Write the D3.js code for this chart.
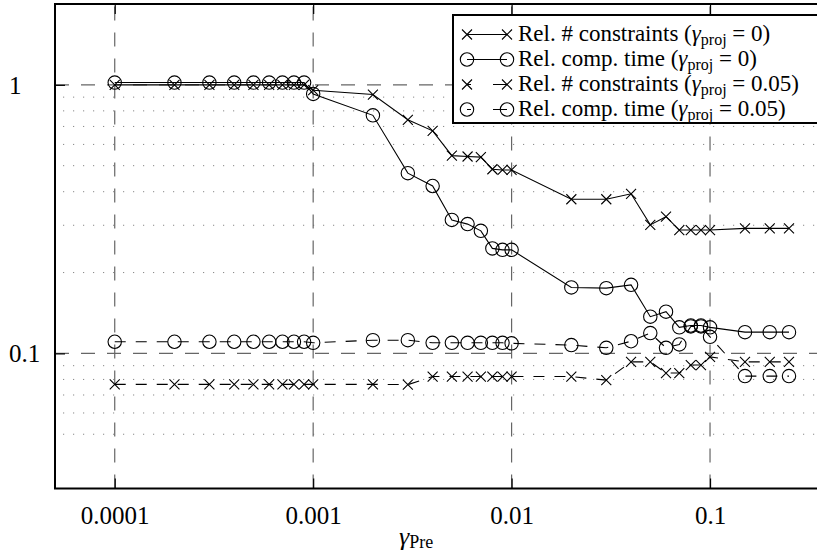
<!DOCTYPE html>
<html>
<head>
<meta charset="utf-8">
<script src="https://cdn.jsdelivr.net/npm/d3@7"></script>
<style>
  html, body { margin: 0; padding: 0; background: #fff; }
  svg { display: block; }
  text { font-family: "Liberation Serif", "DejaVu Serif", serif; fill: #000; }
</style>
</head>
<body>
<svg id="chart" width="817" height="554"></svg>
<script>
// Preconditioning threshold values on the x axis
const gammaPre = [
  0.0001, 0.0002, 0.0003, 0.0004, 0.0005, 0.0006, 0.0007, 0.0008, 0.0009,
  0.001, 0.002, 0.003, 0.004, 0.005, 0.006, 0.007, 0.008, 0.009,
  0.01, 0.02, 0.03, 0.04, 0.05, 0.06, 0.07, 0.08, 0.09,
  0.1, 0.15, 0.2, 0.25
];

// Relative number of constraints, gamma_proj = 0
const consNoProj = [
  1.0, 1.0, 1.0, 1.0, 1.0, 1.0, 1.0, 1.0, 1.0,
  0.955, 0.92, 0.741, 0.674, 0.545, 0.541, 0.538, 0.485, 0.482,
  0.482, 0.375, 0.375, 0.393, 0.301, 0.323, 0.288, 0.288, 0.288,
  0.288, 0.292, 0.292, 0.292
];

// Relative computation time, gamma_proj = 0
const timeNoProj = [
  1.02, 1.02, 1.02, 1.02, 1.02, 1.02, 1.02, 1.02, 1.02,
  0.925, 0.77, 0.469, 0.42, 0.314, 0.303, 0.286, 0.246, 0.243,
  0.243, 0.176, 0.175, 0.18, 0.137, 0.143, 0.125, 0.127, 0.127,
  0.125, 0.12, 0.12, 0.12
];

// Relative number of constraints, gamma_proj = 0.05
const consProj = [
  0.0767, 0.0767, 0.0767, 0.0767, 0.0767, 0.0767, 0.0767, 0.0767, 0.0767,
  0.0767, 0.0767, 0.0765, 0.082, 0.082, 0.082, 0.082, 0.082, 0.082,
  0.082, 0.082, 0.0795, 0.093, 0.093, 0.0845, 0.0845, 0.0905, 0.0905,
  0.097, 0.093, 0.093, 0.093
];

// Relative computation time, gamma_proj = 0.05
const timeProj = [
  0.1105, 0.1105, 0.1105, 0.1105, 0.1105, 0.1105, 0.1105, 0.1105, 0.1105,
  0.1095, 0.112, 0.112, 0.1095, 0.1095, 0.1095, 0.1095, 0.1095, 0.1095,
  0.109, 0.1074, 0.1049, 0.111, 0.119, 0.1049, 0.108, 0.126, 0.126,
  0.1153, 0.0823, 0.0823, 0.0823
];

const xTickValues = [0.0001, 0.001, 0.01, 0.1];
const xTickLabels = ["0.0001", "0.001", "0.01", "0.1"];
const yTickValues = [0.1, 1];
const yTickLabels = ["0.1", "1"];
const yMinorGrid = [0.05, 0.06, 0.07, 0.08, 0.09, 0.2, 0.3, 0.4, 0.5, 0.6, 0.7, 0.8, 0.9];

const seriesNames = [
  { pre: "Rel. # constraints (", val: "0)" },
  { pre: "Rel. comp. time (", val: "0)" },
  { pre: "Rel. # constraints (", val: "0.05)" },
  { pre: "Rel. comp. time (", val: "0.05)" }
];

const svg = d3.select("#chart");
const W = 817, H = 554;
const pLeft = 55, pRight = 829.5, pTop = 4, pBottom = 488.5;

const x = d3.scaleLog().domain([5e-5, 0.4]).range([pLeft, pRight]);
const y = d3.scaleLog().domain([0.0314, 2]).range([pBottom, pTop]);

svg.append("defs").append("clipPath").attr("id", "plotClip")
  .append("rect").attr("x", pLeft).attr("y", pTop)
  .attr("width", pRight - pLeft).attr("height", pBottom - pTop);

// Minor horizontal grid (dotted)
svg.append("g").selectAll("line").data(yMinorGrid).join("line")
  .attr("x1", pLeft + 8).attr("x2", pRight)
  .attr("y1", d => y(d)).attr("y2", d => y(d))
  .attr("stroke", "#888").attr("stroke-width", 1)
  .attr("stroke-dasharray", "1.2,8.8");

// Major grid (dashed)
const gridColor = "#666";
svg.append("g").selectAll("line").data(xTickValues).join("line")
  .attr("x1", d => x(d)).attr("x2", d => x(d))
  .attr("y1", pBottom).attr("y2", pTop)
  .attr("stroke", gridColor).attr("stroke-width", 1.2)
  .attr("stroke-dasharray", "14,12");
svg.append("g").selectAll("line").data(yTickValues).join("line")
  .attr("x1", pLeft).attr("x2", pRight)
  .attr("y1", d => y(d)).attr("y2", d => y(d))
  .attr("stroke", gridColor).attr("stroke-width", 1.2)
  .attr("stroke-dasharray", "14,12");

// Axes: ticks pointing inward, labels outside
const xAxisBottom = d3.axisBottom(x).tickValues(xTickValues)
  .tickFormat((d, i) => xTickLabels[i]).tickSize(-10).tickPadding(18);
const gxb = svg.append("g").attr("transform", `translate(0,${pBottom})`).call(xAxisBottom);
gxb.select(".domain").remove();
gxb.selectAll(".tick line").attr("stroke", "#000").attr("stroke-width", 1.2);
gxb.selectAll(".tick text").attr("font-size", 25).attr("font-family", "Liberation Serif").attr("fill", "#000");

const xAxisTop = d3.axisTop(x).tickValues(xTickValues).tickFormat("").tickSize(-10);
const gxt = svg.append("g").attr("transform", `translate(0,${pTop})`).call(xAxisTop);
gxt.select(".domain").remove();
gxt.selectAll(".tick line").attr("stroke", "#000").attr("stroke-width", 1.2);

const yAxis = d3.axisLeft(y).tickValues(yTickValues).tickFormat("").tickSize(-10);
const gy = svg.append("g").attr("transform", `translate(${pLeft},0)`).call(yAxis);
gy.select(".domain").remove();
gy.selectAll(".tick line").attr("stroke", "#000").attr("stroke-width", 1.2);

svg.append("g").selectAll("text").data(yTickValues).join("text")
  .attr("x", 9).attr("y", d => y(d) + 9)
  .attr("font-size", 25)
  .text((d, i) => yTickLabels[i]);

// Frame
svg.append("path")
  .attr("d", `M${pRight},${pTop}H${pLeft}V${pBottom}H${pRight}`)
  .attr("fill", "none").attr("stroke", "#000").attr("stroke-width", 2);

// Data
const series = [
  { values: consNoProj, marker: "cross", dash: null },
  { values: timeNoProj, marker: "circle", dash: null },
  { values: consProj, marker: "cross", dash: "11,10" },
  { values: timeProj, marker: "circle", dash: "11,10" }
];

const plot = svg.append("g").attr("clip-path", "url(#plotClip)");
const line = d3.line().x(d => x(d[0])).y(d => y(d[1]));

function drawMarker(g, kind, cx, cy) {
  if (kind === "cross") {
    const s = 5;
    g.append("path")
      .attr("d", `M${cx - s},${cy - s}L${cx + s},${cy + s}M${cx - s},${cy + s}L${cx + s},${cy - s}`)
      .attr("stroke", "#000").attr("stroke-width", 1.1).attr("fill", "none");
  } else {
    g.append("circle").attr("cx", cx).attr("cy", cy).attr("r", 6.7)
      .attr("stroke", "#000").attr("stroke-width", 1.1).attr("fill", "none");
  }
}

series.forEach(s => {
  const pts = gammaPre.map((g, i) => [g, s.values[i]]);
  plot.append("path").datum(pts).attr("d", line)
    .attr("fill", "none").attr("stroke", "#000").attr("stroke-width", 1.1)
    .attr("stroke-dasharray", s.dash);
  const mg = plot.append("g");
  pts.forEach(p => drawMarker(mg, s.marker, x(p[0]), y(p[1])));
});

// Legend
const lg = svg.append("g");
const lgLeft = 453, lgTop = 15, lgBottom = 123;
lg.append("rect").attr("x", lgLeft).attr("y", lgTop)
  .attr("width", W - lgLeft + 20).attr("height", lgBottom - lgTop)
  .attr("fill", "#fff").attr("stroke", "#000").attr("stroke-width", 2);

series.forEach((s, i) => {
  const cy = 34.5 + 25 * i;
  const x1 = 467, x2 = 507;
  lg.append("line").attr("x1", x1).attr("x2", x2).attr("y1", cy).attr("y2", cy)
    .attr("stroke", "#000").attr("stroke-width", 1.1)
    .attr("stroke-dasharray", s.dash ? "4,22,14" : null);
  drawMarker(lg, s.marker, x1, cy);
  drawMarker(lg, s.marker, x2, cy);
  const t = lg.append("text").attr("x", 518).attr("y", cy + 6.5).attr("font-size", 23);
  t.append("tspan").text(seriesNames[i].pre);
  t.append("tspan").attr("font-style", "italic").text("γ");
  t.append("tspan").attr("font-size", 16).attr("dy", 4).text("proj");
  t.append("tspan").attr("dy", -4).text(" = " + seriesNames[i].val);
});

// X axis title
const xt = svg.append("text").attr("x", 399).attr("y", 545).attr("font-size", 26);
xt.append("tspan").attr("font-style", "italic").text("γ");
xt.append("tspan").attr("font-size", 18).attr("dy", 3).text("Pre");
</script>
</body>
</html>
